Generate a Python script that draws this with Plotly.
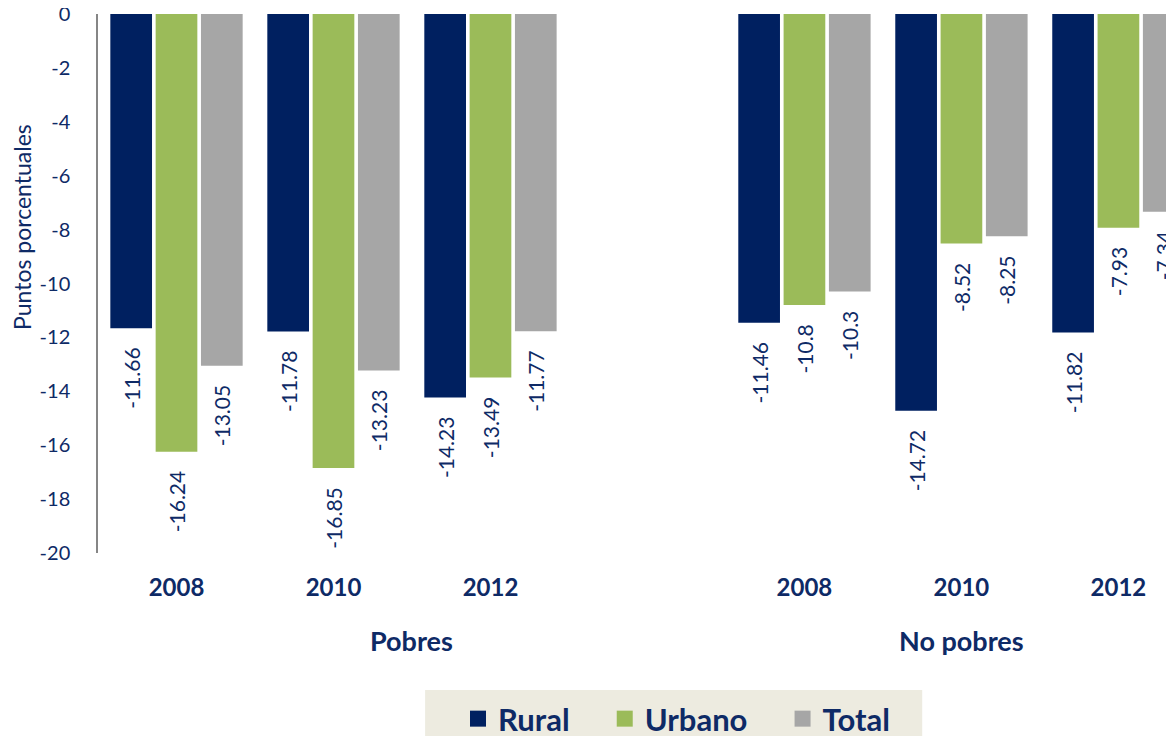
import plotly.graph_objects as go

years = ["2008", "2010", "2012"]
groups = ["Pobres", "No pobres"]
series = ["Rural", "Urbano", "Total"]

pobres_rural = [-11.66, -11.78, -14.23]
pobres_urbano = [-16.24, -16.85, -13.49]
pobres_total = [-13.05, -13.23, -11.77]

nopobres_rural = [-11.46, -14.72, -11.82]
nopobres_urbano = [-10.8, -8.52, -7.93]
nopobres_total = [-10.3, -8.25, -7.34]

yticks = list(range(-20, 1, 2))
yticklabels = [str(v) for v in yticks]

colors = {"Rural": "#002060", "Urbano": "#9BBB59", "Total": "#A6A6A6"}
navy = "#0E2A66"
FONT = "Lato"

# category slots: Pobres at 0,1,2 ; gap at 3 ; No pobres at 4,5,6
xpos = [0, 1, 2, 4, 5, 6]
data = {
    "Rural": pobres_rural + nopobres_rural,
    "Urbano": pobres_urbano + nopobres_urbano,
    "Total": pobres_total + nopobres_total,
}
legend_pad = {"Rural": 4, "Urbano": 4, "Total": 0}

NB = "\u00a0"
fig = go.Figure()
for s in series:
    vals = data[s]
    fig.add_trace(go.Bar(
        x=xpos, y=vals, name=s, marker=dict(color=colors[s], line=dict(width=0)),
        text=[str(v) + NB * 3 for v in vals],
        textposition="outside", textangle=-90, constraintext="none",
        textfont=dict(family=FONT, size=21, color=navy),
        showlegend=False, cliponaxis=True,
    ))
    fig.add_trace(go.Scatter(
        x=[None], y=[None], mode="markers", name=s + NB * legend_pad[s],
        marker=dict(symbol="square", size=18, color=colors[s]),
        showlegend=True,
    ))

fig.update_layout(
    width=1174, height=736,
    margin=dict(l=90, r=8, t=6, b=191, autoexpand=False),
    paper_bgcolor="white", plot_bgcolor="white",
    barmode="group", bargap=0.134, bargroupgap=0.08,
    font=dict(family=FONT, color=navy),
    showlegend=True,
    legend=dict(
        orientation="h", x=450 / 1174, xanchor="left", xref="container",
        y=1 - 711 / 736, yanchor="middle", yref="container",
        bgcolor="rgba(0,0,0,0)",
        font=dict(family=FONT, size=31, color=navy, weight="bold"),
        itemsizing="trace",
    ),
    xaxis=dict(
        range=[-0.5, 6.354], tickmode="array", tickvals=xpos, ticktext=years + years,
        showline=False, showgrid=False, zeroline=False, ticks="",
        tickfont=dict(family=FONT, size=24, color=navy, weight="bold"),
        ticklabelstandoff=18, automargin=False,
    ),
    yaxis=dict(
        range=[-20, 0], tickmode="array", tickvals=yticks, ticktext=yticklabels,
        showline=True, linecolor="#868686", linewidth=1.5,
        showgrid=False, zeroline=False, ticks="",
        tickfont=dict(family=FONT, size=20, color=navy),
        ticklabelstandoff=22, automargin=False, ticklabeloverflow="allow",
    ),
    shapes=[dict(type="rect", xref="paper", yref="paper",
                 x0=0.304, x1=0.766, y0=-0.36, y1=-0.254,
                 fillcolor="#EDEBE0", line=dict(width=0), layer="below")],
    annotations=[
        dict(text="Puntos porcentuales", xref="paper", yref="paper", x=-0.0706, y=0.605,
             xanchor="center", yanchor="middle", textangle=-90, showarrow=False,
             font=dict(family=FONT, size=23, color=navy)),
        dict(text="<b>" + groups[0] + "</b>", xref="x", yref="paper", x=1.5, y=-0.163,
             xanchor="center", yanchor="middle", showarrow=False,
             font=dict(family=FONT, size=27, color=navy)),
        dict(text="<b>" + groups[1] + "</b>", xref="x", yref="paper", x=5, y=-0.163,
             xanchor="center", yanchor="middle", showarrow=False,
             font=dict(family=FONT, size=27, color=navy)),
    ],
)

fig.write_html("out.html")
